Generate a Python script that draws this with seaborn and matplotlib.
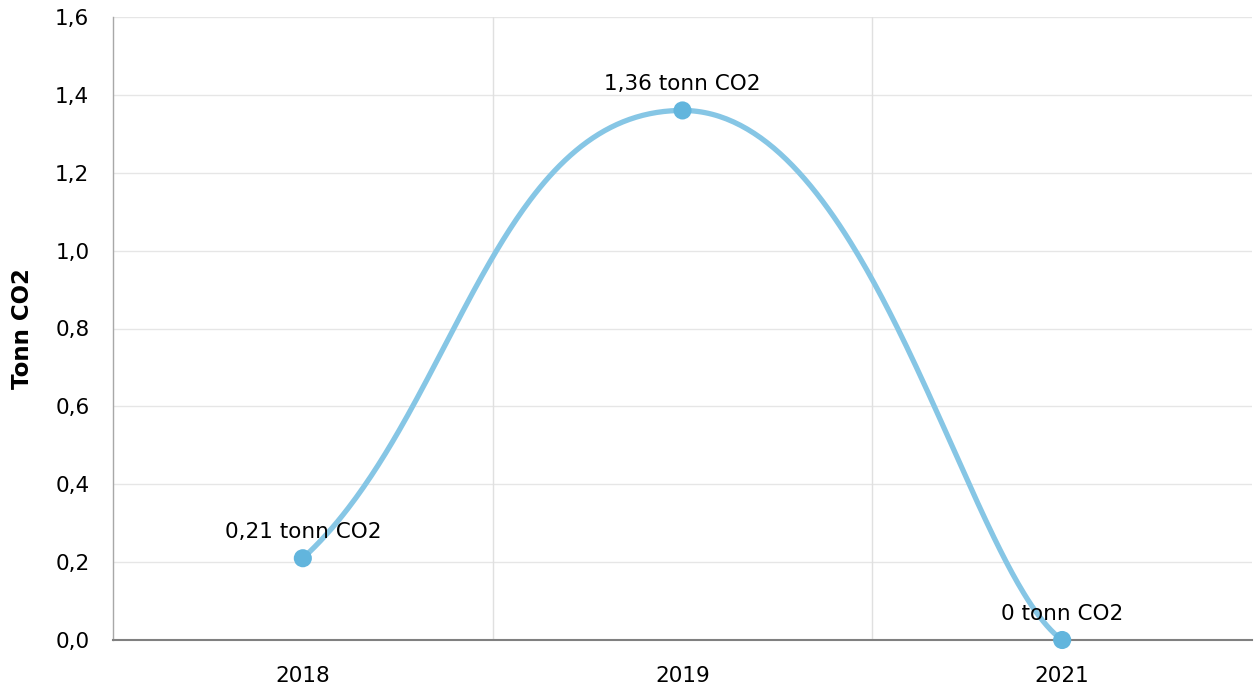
import numpy as np
import pandas as pd
import seaborn as sns
import matplotlib.pyplot as plt

years = ["2018", "2019", "2021"]
co2 = [0.21, 1.36, 0.0]
labels = ["0,21 tonn CO2", "1,36 tonn CO2", "0 tonn CO2"]
yticks = [0.0, 0.2, 0.4, 0.6, 0.8, 1.0, 1.2, 1.4, 1.6]

sns.set_style("white")
plt.rcParams['font.family'] = ['DejaVu Sans']

fig = plt.figure(figsize=(12.55, 6.93), dpi=100)
ax = fig.add_axes([113/1255, 53/693, 1139/1255, 623/693])

### smooth spline through the points (bezier, flat handles at turning points)
xs = np.arange(len(co2), dtype=float)
ys = np.array(co2, dtype=float)
n = len(xs)
# handle length / slope factor at the ends and the inner points
end_len = [0.4, 0.25]
end_slope = [0.31, 0.13]
inner_len = 0.5

cx, cy = [], []
t = np.linspace(0, 1, 150)
for i in range(1, n):
    p0 = np.array([xs[i-1], ys[i-1]])
    p3 = np.array([xs[i], ys[i]])
    d = p3 - p0
    if i - 1 == 0:
        p1 = p0 + [end_len[0] * d[0], end_slope[0] * d[1]]
    else:
        p1 = p0 + [inner_len * d[0], 0]
    if i == n - 1:
        p2 = p3 - [end_len[1] * d[0], end_slope[1] * d[1]]
    else:
        p2 = p3 - [inner_len * d[0], 0]
    pts = ((1-t)**3)[:, None]*p0 + (3*(1-t)**2*t)[:, None]*p1 + (3*(1-t)*t**2)[:, None]*p2 + (t**3)[:, None]*p3
    cx.extend(pts[:, 0]); cy.extend(pts[:, 1])

curve = pd.DataFrame({"x": cx, "y": cy})
pts_df = pd.DataFrame({"x": xs, "y": ys})

# grid
for v in yticks:
    ax.axhline(v, color="#e6e6e6", lw=1, zorder=0)
for v in [0.5, 1.5]:
    ax.axvline(v, color="#e0e0e0", lw=1, zorder=0)

sns.lineplot(data=curve, x="x", y="y", sort=False, color="#86c6e5", lw=3.8,
             ax=ax, zorder=2, solid_capstyle="round")
sns.scatterplot(data=pts_df, x="x", y="y", color="#62b5dd", s=170,
                edgecolor="none", ax=ax, zorder=3, clip_on=False)

for x, y, lab in zip(xs, ys, labels):
    ax.text(x, y + 0.067, lab, ha="center", va="center", fontsize=15.5, color="black")

ax.set_xlim(-0.5, 2.5)
ax.set_ylim(0, 1.6)
ax.set_xticks(xs)
ax.set_xticklabels(years)
ax.set_yticks(yticks)
ax.set_yticklabels([f"{v:.1f}".replace(".", ",") for v in yticks])
ax.tick_params(axis="both", labelsize=15.5, colors="black", width=1)
ax.tick_params(axis="x", color="#b0b0b0", length=6.5, pad=12)
ax.tick_params(axis="y", color="#a8a8a8", length=8, pad=9)
ax.set_xlabel("")
ax.set_ylabel("Tonn CO2", fontsize=16.5, fontweight="bold", labelpad=15, color="black")

for s in ["top", "right"]:
    ax.spines[s].set_visible(False)
ax.spines["left"].set_color("#a8a8a8")
ax.spines["bottom"].set_color("#808080")
ax.spines["bottom"].set_linewidth(1.5)
ax.spines["left"].set_linewidth(1)

fig.savefig("out.png", dpi=100)
